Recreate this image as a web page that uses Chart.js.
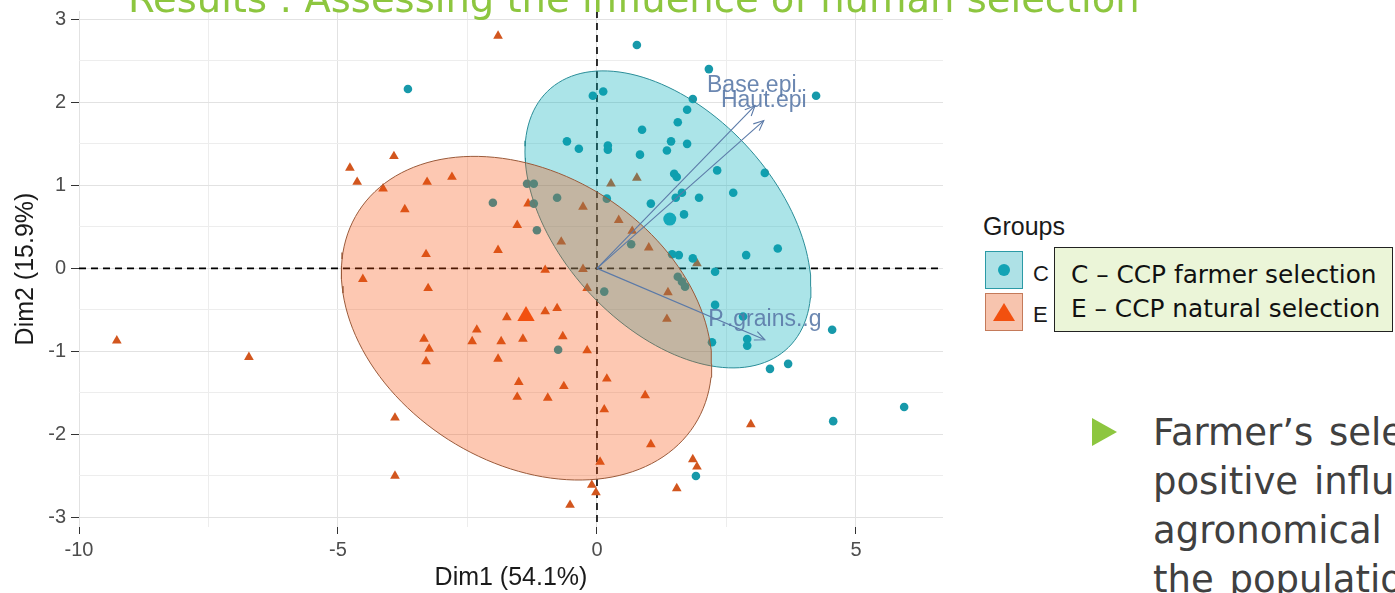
<!DOCTYPE html>
<html>
<head>
<meta charset="utf-8">
<script src="https://cdn.jsdelivr.net/npm/chart.js@4.4.1/dist/chart.umd.min.js"></script>
<style>
  html, body { margin: 0; padding: 0; background: #fff; overflow: hidden; }
  #wrap { position: relative; width: 1395px; height: 593px; overflow: hidden; }
  #plot { position: absolute; left: 0; top: 0; }
  .t { position: absolute; white-space: nowrap; }
  .key { position: absolute; width: 36px; height: 36px; }
</style>
</head>
<body>
<div id="wrap">
  <canvas id="plot" width="960" height="593"></canvas>

  <div class="t" style="left:128px; top:-24px; font:38.5px 'DejaVu Sans'; color:#8dc63f;">Results : Assessing the influence of human selection</div>

  <div class="t" style="left:983px; top:212px; font:25px 'Liberation Sans'; color:#1a1a1a;">Groups</div>
  <div class="key" style="left:985px; top:251px; background:#aee1e6; border:1.5px solid #2b9aa6;">
    <div style="position:absolute; left:12px; top:12px; width:12px; height:12px; border-radius:50%; background:#13a3b5;"></div>
  </div>
  <div class="key" style="left:985px; top:293px; background:#f7c4ae; border:1.5px solid #c47a5a;">
    <div style="position:absolute; left:7px; top:9px; width:0; height:0; border-left:11px solid transparent; border-right:11px solid transparent; border-bottom:18px solid #f2500f;"></div>
  </div>
  <div class="t" style="left:1033px; top:261px; font:22px 'Liberation Sans'; color:#1a1a1a;">C</div>
  <div class="t" style="left:1033px; top:302px; font:22px 'Liberation Sans'; color:#1a1a1a;">E</div>

  <div style="position:absolute; left:1054px; top:247px; width:337px; height:83px; background:#ebf5d8; border:1.5px solid #222;"></div>
  <div class="t" style="left:1071px; top:258px; font:24.8px 'DejaVu Sans'; line-height:34px; color:#111;">C – CCP farmer selection<br>E – CCP natural selection</div>

  <div style="position:absolute; left:1092px; top:418px; width:0; height:0; border-top:14.5px solid transparent; border-bottom:14.5px solid transparent; border-left:25px solid #8dc63f;"></div>
  <div class="t" style="left:1153px; top:408px; font:37px 'DejaVu Sans'; line-height:49px; word-spacing:4px; color:#404040;">Farmer’s selection has a<br>positive influence on<br>agronomical traits of<br>the population</div>
</div>

<script>
// PCA individuals, group C (farmer selection)
const cDim1 = [-3.65, -2.01, -1.35, -1.22, -1.16, -1.22, 0.77, 2.16, -0.08, 0.12,
  1.85, 1.74, 1.56, 0.87, -0.58, -0.35, 0.21, 0.21, 0.83, 1.35,
  1.43, 1.74, 2.32, 1.49, 1.54, 2.63, 1.97, 1.64, 1.52, 1.04,
  1.68, 1.85, 1.58, 1.45, 0.66, 0.19, -0.77, 2.28, 1.56, 1.64,
  1.70, 0.14, 2.28, 2.22, -0.75, 4.23, 3.24, 2.88, 3.49, 2.90,
  2.90, 2.82, 4.54, 3.34, 3.69, 4.56, 5.93, 1.91];
const cDim2 = [2.16, 0.79, 1.02, 1.02, 0.46, 0.78, 2.69, 2.40, 2.08, 2.13,
  2.04, 1.91, 1.76, 1.67, 1.53, 1.44, 1.48, 1.43, 1.37, 1.42,
  1.53, 1.50, 1.18, 1.14, 1.10, 0.91, 0.85, 0.91, 0.85, 0.78,
  0.65, 0.12, 0.16, 0.17, 0.29, 0.84, 0.85, -0.04, -0.10, -0.16,
  -0.22, -0.28, -0.44, -0.89, -0.98, 2.08, 1.15, 0.16, 0.24, -0.85,
  -0.93, -0.58, -0.74, -1.21, -1.15, -1.84, -1.67, -2.50];

// group E (natural selection)
const eDim1 = [-4.77, -4.63, -3.92, -4.13, -3.71, -3.28, -2.80, -3.30, -4.52, -3.26,
  -1.91, -1.91, -1.54, -1.33, 0.77, 0.27, -0.27, 0.42, 0.68, 1.00,
  -0.69, -1.00, -0.27, 1.93, -0.19, 1.37, 1.35, -1.74, -1.00, -0.77,
  -0.66, -1.43, -0.19, -2.32, -2.41, -1.85, -1.91, -1.51, -0.64, -1.54,
  -0.95, 0.19, 0.93, 0.14, 1.04, 0.06, 1.85, 1.93, 1.54, -0.10,
  -0.02, -0.52, 2.97, -3.34, -3.24, -3.30, -3.90, -3.90, -9.27, -6.72];
const eDim2 = [1.21, 1.04, 1.35, 0.96, 0.71, 1.04, 1.10, 0.17, -0.13, -0.24,
  2.80, 0.22, 0.52, 0.78, 1.09, 1.02, 0.74, 0.58, 0.45, 0.25,
  0.32, -0.02, -0.01, 0.06, -0.24, -0.29, -0.61, -0.59, -0.52, -0.48,
  -0.82, -0.85, -0.99, -0.74, -0.88, -0.88, -1.09, -1.37, -1.42, -1.55,
  -1.56, -1.33, -1.53, -1.70, -2.12, -2.33, -2.30, -2.39, -2.65, -2.61,
  -2.70, -2.85, -1.88, -0.85, -0.97, -1.12, -1.80, -2.50, -0.87, -1.07];

// variable arrows
const varNames = ['Base.epi.', 'Haut.epi', 'P..grains..g'];
const varDim1 = [3.05, 3.22, 3.24];
const varDim2 = [1.96, 1.78, -0.86];

// 95% ellipses: centre and shape matrix (data units)
const ellipseC = { cx: 1.37, cy: 0.59, sxx: 7.62, syy: 3.20, sxy: -2.24 };
const ellipseE = { cx: -1.36, cy: -0.60, sxx: 12.78, syy: 3.80, sxy: -1.97 };

// axes
const xGrid = [-10, -7.5, -5, -2.5, 0, 2.5, 5];
const xLabels = [-10, -5, 0, 5];
const yGrid = [-3, -2.5, -2, -1.5, -1, -0.5, 0, 0.5, 1, 1.5, 2, 2.5, 3];
const yLabels = [-3, -2, -1, 0, 1, 2, 3];

const C_COL = '#1799aa', E_COL = '#d2561e', VAR_COL = '#5b7aa8';

const toPts = (xs, ys) => xs.map((x, i) => ({ x: x, y: ys[i] }));
const mean = a => a.reduce((s, v) => s + v, 0) / a.length;

function ellipsePts(e) {
  const l11 = Math.sqrt(e.sxx), l21 = e.sxy / l11, l22 = Math.sqrt(e.syy - l21 * l21);
  const pts = [];
  for (let i = 0; i <= 144; i++) {
    const t = i / 144 * 2 * Math.PI;
    pts.push({ x: e.cx + l11 * Math.cos(t), y: e.cy + l21 * Math.cos(t) + l22 * Math.sin(t) });
  }
  return pts;
}

const datasets = [
  { label: 'C', data: toPts(cDim1, cDim2), pointStyle: 'circle', pointRadius: 4.3,
    backgroundColor: C_COL, borderColor: C_COL, borderWidth: 0, order: 10 },
  { label: 'E', data: toPts(eDim1, eDim2), pointStyle: 'triangle', pointRadius: 5.6,
    backgroundColor: E_COL, borderColor: E_COL, borderWidth: 0, order: 10 },
  { type: 'line', label: 'ellC', data: ellipsePts(ellipseC), borderColor: '#2a8d98', borderWidth: 1,
    backgroundColor: 'rgba(0,172,185,0.33)', fill: 'shape', pointRadius: 0, tension: 0, order: 6 },
  { type: 'line', label: 'ellE', data: ellipsePts(ellipseE), borderColor: '#9a5a3a', borderWidth: 1,
    backgroundColor: 'rgba(248,76,8,0.31)', fill: 'shape', pointRadius: 0, tension: 0, order: 5 },
  { label: 'meanC', data: [{ x: mean(cDim1), y: mean(cDim2) }], pointStyle: 'circle', pointRadius: 6.5,
    backgroundColor: '#14a9ba', borderWidth: 0, order: 3 },
  { label: 'meanE', data: [{ x: mean(eDim1), y: mean(eDim2) }], pointStyle: 'triangle', pointRadius: 10,
    backgroundColor: '#f2500f', borderWidth: 0, order: 3 }
];
varNames.forEach((n, i) => {
  datasets.push({ type: 'line', label: n, data: [{ x: 0, y: 0 }, { x: varDim1[i], y: varDim2[i] }],
    borderColor: VAR_COL, borderWidth: 1.1, pointRadius: 0, fill: false, order: 1 });
});

const refLines = {
  id: 'refLines',
  beforeDatasetsDraw(chart) {
    const { ctx, chartArea: a, scales: { x, y } } = chart;
    const px = x.getPixelForValue(0), py = y.getPixelForValue(0);
    ctx.save();
    ctx.strokeStyle = '#000';
    ctx.lineWidth = 1.6;
    ctx.setLineDash([7, 5]);
    ctx.beginPath();
    ctx.moveTo(a.left, py); ctx.lineTo(a.right, py);
    ctx.moveTo(px, a.top); ctx.lineTo(px, a.bottom);
    ctx.stroke();
    ctx.restore();
  },
  afterDatasetsDraw(chart) {
    const { ctx, scales: { x, y } } = chart;
    const ox = x.getPixelForValue(0), oy = y.getPixelForValue(0);
    ctx.save();
    ctx.strokeStyle = VAR_COL;
    ctx.fillStyle = VAR_COL;
    ctx.lineWidth = 1.1;
    ctx.font = '23px "Liberation Sans"';
    ctx.textAlign = 'center';
    ctx.textBaseline = 'alphabetic';
    varNames.forEach((n, i) => {
      const px = x.getPixelForValue(varDim1[i]), py = y.getPixelForValue(varDim2[i]);
      const ang = Math.atan2(py - oy, px - ox);
      ctx.beginPath();
      ctx.moveTo(px - 11 * Math.cos(ang - 0.42), py - 11 * Math.sin(ang - 0.42));
      ctx.lineTo(px, py);
      ctx.lineTo(px - 11 * Math.cos(ang + 0.42), py - 11 * Math.sin(ang + 0.42));
      ctx.stroke();
      ctx.globalAlpha = 0.9;
      ctx.fillText(n, px, py - 14);
      ctx.globalAlpha = 1;
    });
    ctx.restore();
  }
};

new Chart(document.getElementById('plot'), {
  type: 'scatter',
  data: { datasets: datasets },
  options: {
    responsive: false,
    animation: false,
    layout: { padding: { top: 11, right: 17, left: 0, bottom: 0 } },
    plugins: { legend: { display: false }, tooltip: { enabled: false } },
    scales: {
      x: {
        type: 'linear', min: -10, max: 6.68,
        afterBuildTicks: s => { s.ticks = xGrid.map(v => ({ value: v })); },
        afterFit: s => { s.height = 66; },
        border: { display: false },
        grid: {
          color: c => xLabels.includes(c.tick.value) ? '#e2e2e2' : '#ededed',
          tickColor: c => xLabels.includes(c.tick.value) ? '#333' : 'rgba(0,0,0,0)',
          tickLength: 7, lineWidth: 1
        },
        ticks: {
          padding: 6, color: '#4d4d4d', font: { family: 'Liberation Sans', size: 20, lineHeight: 1 },
          maxRotation: 0, autoSkip: false,
          callback: v => xLabels.includes(v) ? String(v) : ''
        },
        title: { display: true, text: 'Dim1 (54.1%)', color: '#1a1a1a',
          font: { family: 'Liberation Sans', size: 25 }, padding: { top: 0, bottom: 0 } }
      },
      y: {
        type: 'linear', min: -3.115, max: 3.1,
        afterBuildTicks: s => { s.ticks = yGrid.map(v => ({ value: v })); },
        afterFit: s => { s.width = 79; s.paddingTop = 0; s.paddingBottom = 0; },
        border: { display: false },
        grid: {
          color: c => yLabels.includes(c.tick.value) ? '#e2e2e2' : '#ededed',
          tickColor: c => yLabels.includes(c.tick.value) ? '#333' : 'rgba(0,0,0,0)',
          tickLength: 8, lineWidth: 1
        },
        ticks: {
          padding: 5, color: '#4d4d4d', font: { family: 'Liberation Sans', size: 20, lineHeight: 1 },
          autoSkip: false,
          callback: v => yLabels.includes(v) ? String(v) : ''
        },
        title: { display: true, text: 'Dim2 (15.9%)', color: '#1a1a1a',
          font: { family: 'Liberation Sans', size: 25 }, padding: { top: 11, bottom: 0 } }
      }
    }
  },
  plugins: [refLines]
});
</script>
</body>
</html>
